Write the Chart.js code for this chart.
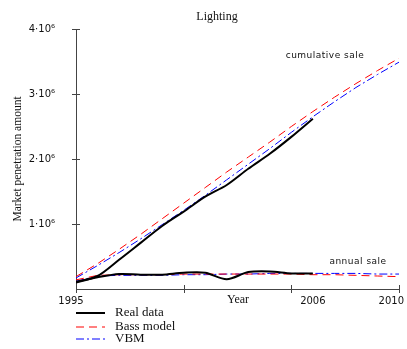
<!DOCTYPE html>
<html>
<head>
<meta charset="utf-8">
<script src="https://cdn.jsdelivr.net/npm/chart.js@4"></script>
<style>
  html, body { margin: 0; padding: 0; background: #fff; }
  #wrap { width: 407px; height: 349px; }
</style>
</head>
<body>
<div id="wrap"><canvas id="chart" width="407" height="349"></canvas></div>
<script>
// values in millions
const years = [1995,1996,1997,1998,1999,2000,2001,2002,2003,2004,2005,2006,2007,2008,2009,2010];
const realCumulative = [0.10,0.20,0.45,0.71,0.97,1.19,1.42,1.60,1.85,2.08,2.34,2.62];
const realAnnual     = [0.11,0.18,0.23,0.22,0.22,0.25,0.25,0.15,0.26,0.27,0.24,0.24];
const bassCumulative = [0.19,0.39,0.61,0.84,1.08,1.32,1.56,1.80,2.03,2.26,2.50,2.73,2.95,3.16,3.36,3.55];
const bassAnnual     = [0.14,0.21,0.22,0.22,0.22,0.23,0.23,0.23,0.23,0.23,0.23,0.22,0.22,0.21,0.20,0.19];
const vbmCumulative  = [0.17,0.36,0.56,0.77,0.99,1.21,1.44,1.68,1.92,2.16,2.41,2.65,2.88,3.10,3.30,3.49];
const vbmAnnual      = [0.12,0.20,0.21,0.21,0.21,0.22,0.22,0.23,0.23,0.24,0.24,0.24,0.24,0.24,0.23,0.23];
const yTicks = [0,1,2,3,4];
const xTicks = [1995,2000,2005,2010];
const xLabels = [[1995, "1995", "center", -5], [2006, "2006", "center", 0], [2010, "2010", "right", 5]];

function pts(arr) {
  return arr.map((v, i) => ({ x: years[i], y: v }));
}

const serif = "'Liberation Serif', 'Times New Roman', serif";
const sans = "'DejaVu Sans', Verdana, sans-serif";

const real = { borderColor: "#000000", borderWidth: 2, tension: 0.3 };
const bass = { borderColor: "#ff0000", borderWidth: 1, borderDash: [8, 5] };
const vbm  = { borderColor: "#0000ff", borderWidth: 1, borderDash: [8, 3, 2, 3] };

/* ticks crossing the axes, texts and legend */
const decor = {
  id: "decor",
  afterDraw(chart) {
    const ctx = chart.ctx;
    const xs = chart.scales.x, ys = chart.scales.y;
    const x0 = xs.left, y0 = ys.bottom;
    ctx.save();
    ctx.strokeStyle = "#444";
    ctx.lineWidth = 1;
    ctx.beginPath();
    yTicks.slice(1).forEach(v => {
      const py = Math.round(ys.getPixelForValue(v)) + 0.5;
      ctx.moveTo(x0 - 4, py); ctx.lineTo(x0 + 4, py);
    });
    xTicks.forEach(v => {
      const px = Math.round(xs.getPixelForValue(v)) + 0.5;
      ctx.moveTo(px, y0 - 4); ctx.lineTo(px, y0 + 4);
    });
    ctx.stroke();

    ctx.fillStyle = "#111";
    ctx.textBaseline = "middle";
    ctx.font = "10px " + sans;
    xLabels.forEach(([v, txt, align, dx]) => {
      ctx.textAlign = align;
      ctx.fillText(txt, xs.getPixelForValue(v) + dx, 301);
    });

    ctx.textAlign = "center";
    ctx.font = "12px " + serif;
    ctx.fillText("Lighting", 217, 17);
    ctx.fillText("Year", 238, 300);

    ctx.font = "9px " + sans;
    ctx.letterSpacing = "0.5px";
    ctx.fillText("cumulative sale", 325, 56);
    ctx.fillText("annual sale", 358, 262);
    ctx.letterSpacing = "0px";

    const items = [["Real data", 0, 313], ["Bass model", 2, 327], ["VBM", 4, 339]];
    ctx.textAlign = "left";
    ctx.font = "13px " + serif;
    items.forEach(([txt, di, py]) => {
      const ds = chart.data.datasets[di];
      ctx.save();
      ctx.strokeStyle = ds.borderColor;
      ctx.lineWidth = ds.borderWidth;
      ctx.setLineDash(ds.borderDash || []);
      ctx.beginPath();
      ctx.moveTo(76, py); ctx.lineTo(105, py);
      ctx.stroke();
      ctx.restore();
      ctx.fillText(txt, 115, py);
    });
    ctx.restore();
  }
};

new Chart(document.getElementById("chart"), {
  type: "line",
  data: {
    datasets: [
      Object.assign({ label: "Real data", data: pts(realCumulative) }, real),
      Object.assign({ label: "Real data annual", data: pts(realAnnual) }, real),
      Object.assign({ label: "Bass model", data: pts(bassCumulative) }, bass),
      Object.assign({ label: "Bass model annual", data: pts(bassAnnual) }, bass),
      Object.assign({ label: "VBM", data: pts(vbmCumulative) }, vbm),
      Object.assign({ label: "VBM annual", data: pts(vbmAnnual) }, vbm)
    ]
  },
  options: {
    responsive: false,
    animation: false,
    layout: { padding: { left: 0, right: 8, top: 29, bottom: 0 } },
    elements: { point: { radius: 0 } },
    plugins: { legend: { display: false }, tooltip: { enabled: false } },
    scales: {
      x: {
        type: "linear",
        min: 1995,
        max: 2010,
        grid: { display: false },
        border: { color: "#444" },
        afterFit(s) { s.height = 60; s.paddingLeft = 0; s.paddingRight = 0; },
        ticks: { display: false }
      },
      y: {
        min: 0,
        max: 4,
        grid: { display: false },
        border: { color: "#444" },
        afterBuildTicks(s) {
          s.ticks = yTicks.map(v => ({ value: v }));
        },
        afterFit(s) { s.width = 76; s.paddingTop = 0; s.paddingBottom = 0; },
        title: {
          display: true,
          text: "Market penetration amount",
          color: "#111",
          font: { family: serif, size: 11.5 },
          padding: { top: 11, bottom: 0 }
        },
        ticks: {
          padding: 13,
          color: "#111",
          font: { family: sans, size: 10 },
          callback: v => v === 0 ? "" : v + "·10⁶"
        }
      }
    }
  },
  plugins: [decor]
});
</script>
</body>
</html>
